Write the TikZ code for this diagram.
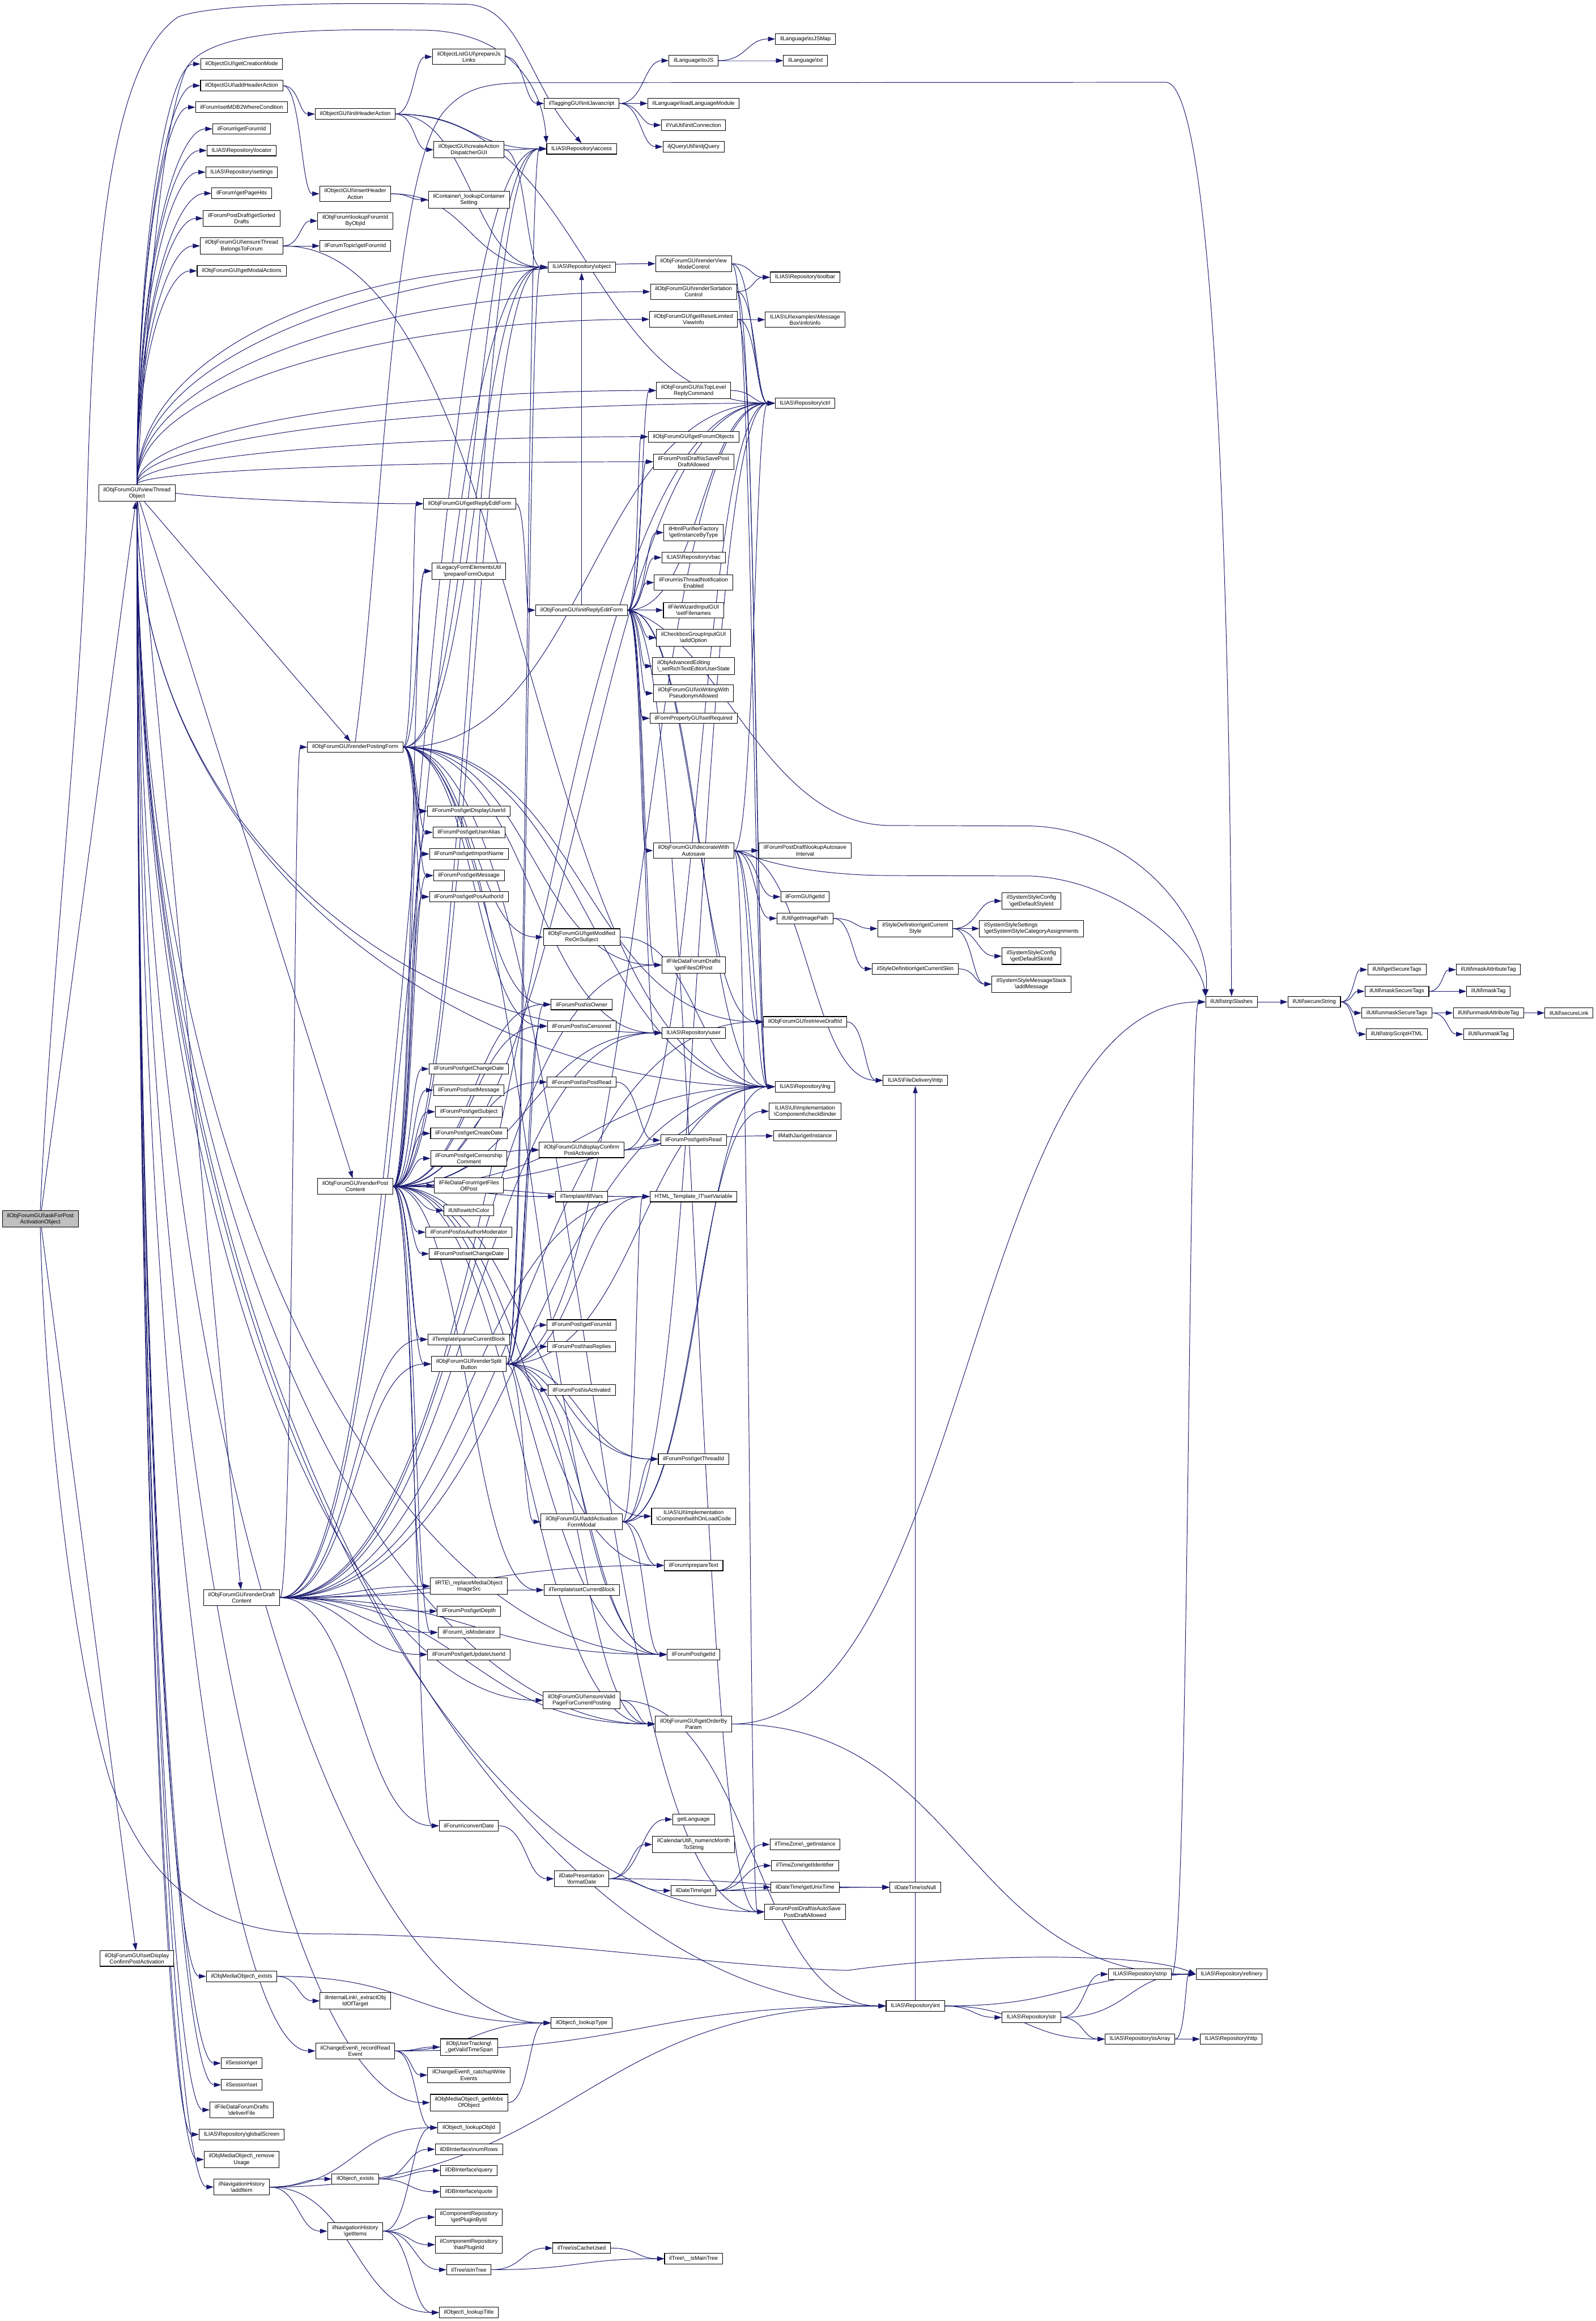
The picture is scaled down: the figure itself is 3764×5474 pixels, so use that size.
\documentclass[tikz,border=0pt]{standalone}
\usepackage{fontspec}
\setmainfont{Liberation Sans}
\usetikzlibrary{arrows.meta}
\pgfdeclarelayer{bgzero}
\pgfdeclarelayer{background}
\pgfsetlayers{bgzero,background,main}
\definecolor{edgec}{RGB}{25,25,112}
\definecolor{rootg}{RGB}{191,191,191}
\newcommand\bsl{\textbackslash}
\newcommand\nd[4]{\node[box] (#1) at (#2,#3) {#4};}
% fan edge leaving source top/bottom, entering target west
\newcommand\fanv[3]{%
  \pgfpointanchor{#1}{#2}\pgfgetlastxy{\fax}{\fay}%
  \pgfpointanchor{#3}{west}\pgfgetlastxy{\fbx}{\fby}%
  \pgfmathsetmacro\fcy{0.6*(\fby-\fay)}%
  \pgfmathsetmacro\fcx{0.5*abs(\fbx-\fax)}%
  \draw[e] (#1.#2) .. controls +(0pt,\fcy pt) and +(-\fcx pt,0pt) .. (#3.west);}
\newcommand\fans[3]{\foreach \edt in {#3}{\fanv{#1}{#2}{\edt}}}
% generic edge: S-curve east -> west, straight if target not to the right
\newcommand\ed[2]{%
  \pgfpointanchor{#1}{east}\pgfgetlastxy{\edax}{\eday}%
  \pgfpointanchor{#2}{west}\pgfgetlastxy{\edbx}{\edby}%
  \pgfmathsetmacro\eddx{\edbx-\edax}%
  \pgfmathsetmacro\edc{0.5*\eddx}%
  \ifdim\eddx pt>0.8pt\relax
    \draw[e] (#1.east) .. controls +(\edc pt,0pt) and +(-\edc pt,0pt) .. (#2.west);%
  \else\draw[e] (#1) -- (#2);\fi}
\newcommand\eds[2]{\foreach \edt in {#2}{\ed{#1}{\edt}}}
\begin{document}
\begin{tikzpicture}[x=0.2pt,y=-0.2pt,
  box/.style={draw=black,line width=0.28pt,fill=white,font=\fontsize{2.62}{3}\selectfont,align=center,inner xsep=2.2pt,inner ysep=1.2pt,minimum height=5pt},
  e/.style={draw=edgec,line width=0.26pt,-{Triangle[length=3.4pt,width=2.2pt]}}]
\begin{pgfonlayer}{bgzero}
\fill[white] (0,0) rectangle (3764,5474);
\end{pgfonlayer}
\useasboundingbox (0,0) rectangle (3764,5474);
% column 0/1
\node[box,fill=rootg] (root) at (95,2875) {ilObjForumGUI\bsl{}askForPost\\ActivationObject};
\nd{vt}{323}{1163}{ilObjForumGUI\bsl{}viewThread\\Object}
\nd{sdcpa}{323}{4619}{ilObjForumGUI\bsl{}setDisplay\\ConfirmPostActivation}
% column 2
\nd{gcm}{570}{151}{ilObjectGUI\bsl{}getCreationMode}
\nd{aha}{570}{202}{ilObjectGUI\bsl{}addHeaderAction}
\nd{smdb}{570}{253}{ilForum\bsl{}setMDB2WhereCondition}
\nd{gfid}{570}{304}{ilForum\bsl{}getForumId}
\nd{loc}{570}{355}{ILIAS\bsl{}Repository\bsl{}locator}
\nd{sett}{570}{406}{ILIAS\bsl{}Repository\bsl{}settings}
\nd{gph}{570}{456}{ilForum\bsl{}getPageHits}
\nd{gsd}{570}{515}{ilForumPostDraft\bsl{}getSorted\\Drafts}
\nd{etb}{570}{580}{ilObjForumGUI\bsl{}ensureThread\\BelongsToForum}
\nd{gma}{570}{639}{ilObjForumGUI\bsl{}getModalActions}
\nd{rdc}{570}{3768}{ilObjForumGUI\bsl{}renderDraft\\Content}
\nd{mox}{570}{4661}{ilObjMediaObject\bsl{}\_exists}
\nd{sget}{570}{4866}{ilSession\bsl{}get}
\nd{sset}{570}{4917}{ilSession\bsl{}set}
\nd{dlf}{570}{4976}{ilFileDataForumDrafts\\\bsl{}deliverFile}
\nd{gs}{570}{5034}{ILIAS\bsl{}Repository\bsl{}globalScreen}
\nd{rmu}{570}{5093}{ilObjMediaObject\bsl{}\_remove\\Usage}
\nd{nhadd}{570}{5158}{ilNavigationHistory\\\bsl{}addItem}
% column 3
\nd{iha}{838}{269}{ilObjectGUI\bsl{}initHeaderAction}
\nd{ihact}{838}{457}{ilObjectGUI\bsl{}insertHeader\\Action}
\nd{lfid}{838}{521}{ilObjForum\bsl{}lookupForumId\\ByObjId}
\nd{ftgf}{838}{580}{ilForumTopic\bsl{}getForumId}
\nd{rpf}{838}{1762}{ilObjForumGUI\bsl{}renderPostingForm}
\nd{rpc}{838}{2798}{ilObjForumGUI\bsl{}renderPost\\Content}
\nd{ilk}{838}{4719}{ilInternalLink\bsl{}\_extractObj\\IdOfTarget}
\nd{rre}{838}{4837}{ilChangeEvent\bsl{}\_recordRead\\Event}
\nd{oex}{838}{5139}{ilObject\bsl{}\_exists}
\nd{nhgi}{838}{5262}{ilNavigationHistory\\\bsl{}getItems}
% column 4
\nd{pjl}{1106}{134}{ilObjectListGUI\bsl{}prepareJs\\Links}
\nd{cad}{1106}{353}{ilObjectGUI\bsl{}createAction\\DispatcherGUI}
\nd{lcs}{1106}{471}{ilContainer\bsl{}\_lookupContainer\\Setting}
\nd{gref}{1108}{1188}{ilObjForumGUI\bsl{}getReplyEditForm}
\nd{pfo}{1106}{1347}{ilLegacyFormElementsUtil\\\bsl{}prepareFormOutput}
\nd{gdu}{1106}{1913}{ilForumPost\bsl{}getDisplayUserId}
\nd{gua}{1106}{1963}{ilForumPost\bsl{}getUserAlias}
\nd{gin}{1106}{2014}{ilForumPost\bsl{}getImportName}
\nd{gmsg}{1106}{2065}{ilForumPost\bsl{}getMessage}
\nd{gpa}{1106}{2115}{ilForumPost\bsl{}getPosAuthorId}
\nd{gcd}{1106}{2521}{ilForumPost\bsl{}getChangeDate}
\nd{smsg}{1106}{2571}{ilForumPost\bsl{}setMessage}
\nd{gsub}{1106}{2622}{ilForumPost\bsl{}getSubject}
\nd{gcrd}{1106}{2673}{ilForumPost\bsl{}getCreateDate}
\nd{gcc}{1106}{2732}{ilForumPost\bsl{}getCensorship\\Comment}
\nd{gfop}{1106}{2796}{ilFileDataForum\bsl{}getFiles\\OfPost}
\nd{swc}{1106}{2855}{ilUtil\bsl{}switchColor}
\nd{iam}{1106}{2906}{ilForumPost\bsl{}isAuthorModerator}
\nd{scd}{1106}{2957}{ilForumPost\bsl{}setChangeDate}
\nd{pcb}{1106}{3159}{ilTemplate\bsl{}parseCurrentBlock}
\nd{rsb}{1106}{3217}{ilObjForumGUI\bsl{}renderSplit\\Button}
\nd{rte}{1106}{3741}{ilRTE\bsl{}\_replaceMediaObject\\ImageSrc}
\nd{gdep}{1106}{3800}{ilForumPost\bsl{}getDepth}
\nd{ismod}{1106}{3850}{ilForum\bsl{}\_isModerator}
\nd{guu}{1106}{3902}{ilForumPost\bsl{}getUpdateUserId}
\nd{cvd}{1106}{4306}{ilForum\bsl{}convertDate}
\nd{gvts}{1106}{4828}{ilObjUserTracking\bsl{}\\\_getValidTimeSpan}
\nd{cwe}{1106}{4894}{ilChangeEvent\bsl{}\_catchupWrite\\Events}
\nd{gmob}{1106}{4959}{ilObjMediaObject\bsl{}\_getMobs\\OfObject}
\nd{lobj}{1106}{5018}{ilObject\bsl{}\_lookupObjId}
\nd{nrows}{1106}{5069}{ilDBInterface\bsl{}numRows}
\nd{query}{1106}{5119}{ilDBInterface\bsl{}query}
\nd{quote}{1106}{5169}{ilDBInterface\bsl{}quote}
\nd{gpbi}{1106}{5229}{ilComponentRepository\\\bsl{}getPluginById}
\nd{hpi}{1106}{5294}{ilComponentRepository\\\bsl{}hasPluginId}
\nd{iit}{1106}{5353}{ilTree\bsl{}isInTree}
\nd{ltitle}{1106}{5454}{ilObject\bsl{}\_lookupTitle}
% column 5
\nd{ijs}{1372}{244}{ilTaggingGUI\bsl{}initJavascript}
\nd{acc}{1372}{351}{ILIAS\bsl{}Repository\bsl{}access}
\nd{obj}{1372}{630}{ILIAS\bsl{}Repository\bsl{}object}
\nd{iref}{1372}{1439}{ilObjForumGUI\bsl{}initReplyEditForm}
\nd{gmro}{1372}{2210}{ilObjForumGUI\bsl{}getModified\\ReOnSubject}
\nd{isown}{1372}{2369}{ilForumPost\bsl{}isOwner}
\nd{iscen}{1372}{2420}{ilForumPost\bsl{}isCensored}
\nd{ispr}{1372}{2552}{ilForumPost\bsl{}isPostRead}
\nd{dcpa}{1372}{2712}{ilObjForumGUI\bsl{}displayConfirm\\PostActivation}
\nd{fvars}{1372}{2822}{ilTemplate\bsl{}fillVars}
\nd{pgfid}{1372}{3125}{ilForumPost\bsl{}getForumId}
\nd{hrep}{1372}{3176}{ilForumPost\bsl{}hasReplies}
\nd{isact}{1372}{3278}{ilForumPost\bsl{}isActivated}
\nd{aafm}{1372}{3589}{ilObjForumGUI\bsl{}addActivation\\FormModal}
\nd{scb}{1372}{3750}{ilTemplate\bsl{}setCurrentBlock}
\nd{evp}{1372}{4010}{ilObjForumGUI\bsl{}ensureValid\\PageForCurrentPosting}
\nd{fdate}{1372}{4431}{ilDatePresentation\\\bsl{}formatDate}
\nd{ltype}{1372}{4771}{ilObject\bsl{}\_lookupType}
\nd{icu}{1372}{5302}{ilTree\bsl{}isCacheUsed}
% column 6
\nd{tojs}{1636}{143}{ilLanguage\bsl{}toJS}
\nd{llm}{1636}{244}{ilLanguage\bsl{}loadLanguageModule}
\nd{yui}{1636}{295}{ilYuiUtil\bsl{}initConnection}
\nd{jq}{1636}{346}{iljQueryUtil\bsl{}initjQuery}
\nd{rvmc}{1636}{622}{ilObjForumGUI\bsl{}renderView\\ModeControl}
\nd{rsc}{1636}{688}{ilObjForumGUI\bsl{}renderSortation\\Control}
\nd{grlv}{1636}{753}{ilObjForumGUI\bsl{}getResetLimited\\ViewInfo}
\nd{itlr}{1636}{921}{ilObjForumGUI\bsl{}isTopLevel\\ReplyCommand}
\nd{gfo}{1636}{1030}{ilObjForumGUI\bsl{}getForumObjects}
\nd{isp}{1636}{1089}{ilForumPostDraft\bsl{}isSavePost\\DraftAllowed}
\nd{hpf}{1636}{1256}{ilHtmlPurifierFactory\\\bsl{}getInstanceByType}
\nd{rbac}{1636}{1315}{ILIAS\bsl{}Repository\bsl{}rbac}
\nd{itn}{1636}{1374}{ilForum\bsl{}isThreadNotification\\Enabled}
\nd{sfn}{1636}{1439}{ilFileWizardInputGUI\\\bsl{}setFilenames}
\nd{aopt}{1636}{1504}{ilCheckboxGroupInputGUI\\\bsl{}addOption}
\node[box,align=left] (srte) at (1636,1571) {ilObjAdvancedEditing\\\bsl{}\_setRichTextEditorUserState};
\nd{iwp}{1636}{1635}{ilObjForumGUI\bsl{}isWritingWith\\PseudonymAllowed}
\nd{sreq}{1636}{1694}{ilFormPropertyGUI\bsl{}setRequired}
\nd{dwa}{1636}{2006}{ilObjForumGUI\bsl{}decorateWith\\Autosave}
\nd{fdgf}{1636}{2276}{ilFileDataForumDrafts\\\bsl{}getFilesOfPost}
\nd{user}{1636}{2436}{ILIAS\bsl{}Repository\bsl{}user}
\nd{gir}{1636}{2689}{ilForumPost\bsl{}getIsRead}
\nd{setv}{1636}{2822}{HTML\_Template\_IT\bsl{}setVariable}
\nd{gtid}{1636}{3441}{ilForumPost\bsl{}getThreadId}
\nd{wolc}{1636}{3576}{ILIAS\bsl{}UI\bsl{}Implementation\\\bsl{}Component\bsl{}withOnLoadCode}
\nd{ptxt}{1636}{3692}{ilForum\bsl{}prepareText}
\nd{pgid}{1636}{3902}{ilForumPost\bsl{}getId}
\nd{gobp}{1636}{4066}{ilObjForumGUI\bsl{}getOrderBy\\Param}
\nd{glang}{1636}{4291}{getLanguage}
\nd{nms}{1636}{4350}{ilCalendarUtil\bsl{}\_numericMonth\\ToString}
\nd{dtget}{1636}{4459}{ilDateTime\bsl{}get}
\nd{imt}{1636}{5327}{ilTree\bsl{}\_\_isMainTree}
% column 7
\nd{tojsm}{1900}{92}{ilLanguage\bsl{}toJSMap}
\nd{txt}{1900}{143}{ilLanguage\bsl{}txt}
\nd{tbar}{1899}{654}{ILIAS\bsl{}Repository\bsl{}toolbar}
\nd{mbi}{1899}{754}{ILIAS\bsl{}UI\bsl{}examples\bsl{}Message\\Box\bsl{}Info\bsl{}info}
\nd{ctrl}{1899}{951}{ILIAS\bsl{}Repository\bsl{}ctrl}
\nd{lai}{1899}{2006}{ilForumPostDraft\bsl{}lookupAutosave\\Interval}
\nd{fgid}{1899}{2115}{ilFormGUI\bsl{}getId}
\nd{gip}{1899}{2166}{ilUtil\bsl{}getImagePath}
\nd{rdid}{1899}{2410}{ilObjForumGUI\bsl{}retrieveDraftId}
\nd{lng}{1899}{2563}{ILIAS\bsl{}Repository\bsl{}lng}
\nd{cb}{1899}{2621}{ILIAS\bsl{}UI\bsl{}Implementation\\\bsl{}Component\bsl{}checkBinder}
\nd{mj}{1899}{2679}{ilMathJax\bsl{}getInstance}
\nd{tzgi}{1899}{4350}{ilTimeZone\bsl{}\_getInstance}
\nd{tzid}{1899}{4400}{ilTimeZone\bsl{}getIdentifier}
\nd{gut}{1899}{4451}{ilDateTime\bsl{}getUnixTime}
\nd{iaspd}{1899}{4509}{ilForumPostDraft\bsl{}isAutoSave\\PostDraftAllowed}
% column 8
\nd{gcs}{2159}{2190}{ilStyleDefinition\bsl{}getCurrent\\Style}
\nd{gcsk}{2159}{2285}{ilStyleDefinition\bsl{}getCurrentSkin}
\nd{fdh}{2159}{2548}{ILIAS\bsl{}FileDelivery\bsl{}http}
\nd{isnull}{2159}{4451}{ilDateTime\bsl{}isNull}
\nd{rint}{2159}{4731}{ILIAS\bsl{}Repository\bsl{}int}
% column 9
\nd{ssc1}{2433}{2125}{ilSystemStyleConfig\\\bsl{}getDefaultStyleId}
\node[box,align=left] (sss) at (2433,2190) {ilSystemStyleSettings\\\bsl{}getSystemStyleCategoryAssignments};
\nd{ssc2}{2433}{2255}{ilSystemStyleConfig\\\bsl{}getDefaultSkinId}
\nd{ssm}{2433}{2321}{ilSystemStyleMessageStack\\\bsl{}addMessage}
\nd{rstr}{2433}{4758}{ILIAS\bsl{}Repository\bsl{}str}
% column 10+
\nd{strip}{2689}{4656}{ILIAS\bsl{}Repository\bsl{}strip}
\nd{isarr}{2689}{4809}{ILIAS\bsl{}Repository\bsl{}isArray}
\nd{ss}{2905}{2363}{ilUtil\bsl{}stripSlashes}
\nd{refi}{2905}{4656}{ILIAS\bsl{}Repository\bsl{}refinery}
\nd{rhttp}{2904}{4809}{ILIAS\bsl{}Repository\bsl{}http}
\nd{sec}{3100}{2363}{ilUtil\bsl{}secureString}
\nd{gst}{3295}{2287}{ilUtil\bsl{}getSecureTags}
\nd{mst}{3295}{2338}{ilUtil\bsl{}maskSecureTags}
\nd{ust}{3295}{2389}{ilUtil\bsl{}unmaskSecureTags}
\nd{ssh}{3295}{2439}{ilUtil\bsl{}stripScriptHTML}
\nd{mat}{3511}{2287}{ilUtil\bsl{}maskAttributeTag}
\nd{mtag}{3511}{2338}{ilUtil\bsl{}maskTag}
\nd{uat}{3511}{2389}{ilUtil\bsl{}unmaskAttributeTag}
\nd{utag}{3511}{2439}{ilUtil\bsl{}unmaskTag}
\nd{slink}{3701}{2389}{ilUtil\bsl{}secureLink}

\begin{pgfonlayer}{background}
% root
\draw[e] (root) -- (vt);
\draw[e] (root) -- (sdcpa);
\draw[e] (root.north) .. controls (120,2300) and (190,1700) .. (205,1200) .. controls (220,600) and (260,150) .. (420,40) .. controls (520,2) and (900,8) .. (1100,10) .. controls (1230,15) and (1245,200) .. (acc.north);
\draw[e] (root.south) .. controls (105,3300) and (170,3900) .. (260,4200) .. controls (350,4450) and (500,4561) .. (750,4561) .. controls (1200,4561) and (1700,4640) .. (2000,4647) .. controls (2300,4605) and (2700,4605) .. (refi.west);
% viewThread
\fans{vt}{north}{gcm,aha,smdb,gfid,loc,sett,gph,gsd,etb,gma,rvmc,obj,rsc,grlv,ctrl,itlr,gfo,isp}
\draw[e] (vt.east) .. controls (500,1175) and (800,1188) .. (gref.west);
\draw[e] (vt) -- (rpf);
\draw[e] (vt) -- (rpc);
\draw[e] (vt) -- (rdc);
\fans{vt}{south}{mox,sget,sset,dlf,gs,rmu,nhadd,gmob,rre,evp,gobp,ltype,rint,user,lng,pgid,iaspd}
\draw[e] (vt.north) .. controls (350,700) and (380,300) .. (440,160) .. controls (500,60) and (800,70) .. (1000,71) .. controls (1200,75) and (1280,200) .. (acc.north west);
\draw[e] (rpf.north) .. controls (900,1300) and (920,400) .. (1050,260) .. controls (1100,205) and (1150,196) .. (1250,195) -- (2750,194) .. controls (2860,196) and (2900,1300) .. (ss.north);
\draw[e] (iref.east) .. controls (1700,1500) and (1800,1945) .. (2100,1947) -- (2430,1948) .. controls (2700,1955) and (2860,2200) .. (ss.north west);
\draw[e] (dwa.east) .. controls (1800,2030) and (1900,2064) .. (2100,2065) -- (2430,2066) .. controls (2650,2075) and (2830,2250) .. (ss.north west);
% others
\eds{aha}{iha,ihact}
\eds{etb}{lfid,ftgf,lng}
\eds{iha}{pjl,cad,acc,ctrl,obj}
\eds{ihact}{lcs,obj}
\eds{pjl}{ijs}
\eds{cad}{acc,obj}
\eds{ijs}{tojs,llm,yui,jq}
\eds{tojs}{tojsm,txt}
\eds{rvmc}{tbar,ctrl,lng}
\eds{rsc}{tbar,ctrl,lng}
\eds{grlv}{mbi,ctrl,lng}
\eds{itlr}{ctrl}
\eds{gref}{iref}
\eds{iref}{itlr,gfo,isp,hpf,rbac,itn,sfn,aopt,srte,iwp,sreq,dwa,fdgf,user,ctrl,lng,rdid,iaspd,obj}
\eds{dwa}{lai,fgid,gip,rdid,lng,ctrl,fdh,iaspd}
\eds{gip}{gcs,gcsk}
\eds{gcs}{ssc1,sss,ssc2,ssm}
\eds{gcsk}{ssm}
\eds{rdid}{fdh}
\eds{rpf}{gref,pfo,obj,acc,ctrl,gdu,gua,gin,gmsg,gpa,user,lng,rdid,gmro,isown,iscen,fdgf,iaspd,pgid}
\eds{rpc}{gcd,smsg,gsub,gcrd,gcc,gfop,swc,iam,scd,pcb,rsb,rte,ismod,cvd,gdu,gua,gin,gmsg,gpa,isown,iscen,ispr,dcpa,fvars,setv,gtid,ptxt,pgid,gobp,scb,mj,obj,acc,ctrl,lng,user,pfo}
\eds{rdc}{rpf,pcb,rsb,rte,gdep,ismod,guu,scb,ptxt,pgid,gobp,setv,fdgf,rdid,user,ctrl,lng,obj,acc,cvd}
\eds{rsb}{pgfid,hrep,isact,aafm,isown,iscen,gtid,wolc,setv,pgid,gobp,ctrl,lng,obj,acc,dcpa}
\eds{aafm}{wolc,ptxt,pgid,gtid,setv,lng,ctrl,cb}
\eds{fvars}{setv}
\eds{ispr}{gir}
\eds{gmro}{lng}
\eds{dcpa}{lng,ctrl}
\eds{evp}{gobp,rint}
\eds{gobp}{ss,refi}
\eds{cvd}{fdate}
\eds{fdate}{glang,nms,dtget,isnull}
\eds{dtget}{tzgi,tzid,gut,isnull}
\eds{gut}{isnull}
\eds{mox}{ilk,ltype}
\eds{gmob}{ltype}
\eds{rre}{gvts,cwe,ltype,lobj,rint}
\eds{nhadd}{oex,nhgi,ltitle,lobj,rint}
\eds{oex}{nrows,query,quote}
\eds{nhgi}{gpbi,hpi,iit,ltitle,lobj}
\eds{iit}{icu,imt}
\eds{icu}{imt}
\eds{rint}{rstr,isarr,refi,fdh}
\eds{rstr}{strip,refi,isarr}
\eds{isarr}{refi,rhttp}
\eds{strip}{ss}
\eds{ss}{sec}
\eds{sec}{gst,mst,ust,ssh}
\eds{mst}{mat,mtag}
\eds{ust}{uat,utag}
\eds{uat}{slink}
\end{pgfonlayer}
\end{tikzpicture}
\end{document}
